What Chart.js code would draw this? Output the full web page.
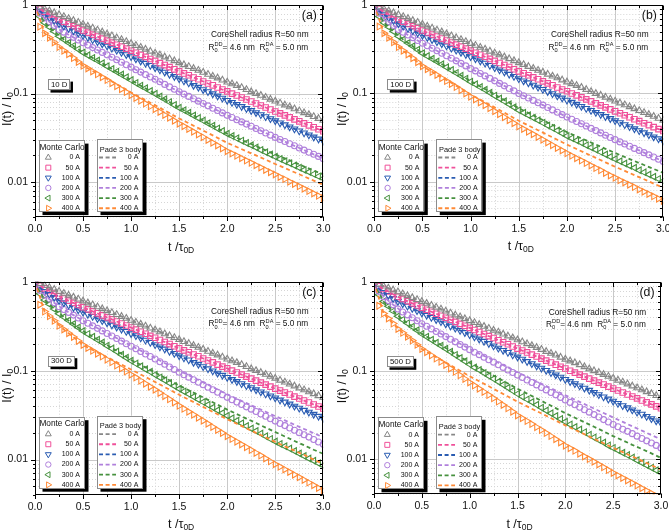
<!DOCTYPE html>
<html>
<head>
<meta charset="utf-8">
<title>CoreShell decay curves</title>
<script src="https://cdn.jsdelivr.net/npm/chart.js@4/dist/chart.umd.min.js"></script>
<style>
html,body{margin:0;padding:0;background:#fff;}
#wrap{position:relative;width:669px;height:530px;overflow:hidden;background:#fff;}
canvas{position:absolute;display:block;}
</style>
</head>
<body>
<div id="wrap">
<canvas id="pa" width="335" height="265" style="left:0px;top:0px"></canvas>
<canvas id="pb" width="334" height="265" style="left:335px;top:0px"></canvas>
<canvas id="pc" width="335" height="265" style="left:0px;top:265px"></canvas>
<canvas id="pd" width="334" height="265" style="left:335px;top:265px"></canvas>
</div>
<script>
// ---------- labels ----------
const SERIES_LABELS = ['0 A','50 A','100 A','200 A','300 A','400 A'];
const PANEL_LABELS = ['(a)','(b)','(c)','(d)'];
const DIFFUSION_LABELS = ['10 D','100 D','300 D','500 D'];
const Y_TICK_LABELS = ['1','0.1','0.01'];

// ---------- time axis (t / tau0D) ----------
const T = [0,0.05,0.1,0.15,0.2,0.25,0.3,0.35,0.4,0.45,
0.5,0.55,0.6,0.65,0.7,0.75,0.8,0.85,0.9,0.95,
1,1.05,1.1,1.15,1.2,1.25,1.3,1.35,1.4,1.45,
1.5,1.55,1.6,1.65,1.7,1.75,1.8,1.85,1.9,1.95,
2,2.05,2.1,2.15,2.2,2.25,2.3,2.35,2.4,2.45,
2.5,2.55,2.6,2.65,2.7,2.75,2.8,2.85,2.9,2.95,3];
const T10 = [0,0.1,0.2,0.3,0.4,0.5,0.6,0.7,0.8,0.9,1,1.1,1.2,1.3,1.4,1.5,1.6,1.7,1.8,1.9,2,2.1,2.2,2.3,2.4,2.5,2.6,2.7,2.8,2.9,3];

// ---------- Monte Carlo (and coincident Padé) values ----------
const MC_0A = [1,.951,.905,.861,.819,.779,.741,.705,.670,.638,
.607,.577,.549,.522,.497,.472,.449,.427,.407,.387,
.368,.350,.333,.317,.301,.287,.273,.259,.247,.235,
.223,.212,.202,.192,.183,.174,.165,.157,.150,.142,
.135,.129,.123,.117,.111,.105,.100,.0954,.0907,.0863,
.0821,.0781,.0743,.0707,.0672,.0639,.0608,.0578,.0550,.0523,.0498];
const MC_50A = [1,.904,.841,.786,.734,.685,.647,.612,.578,.546,
.516,.489,.464,.441,.418,.397,.377,.357,.339,.322,
.305,.289,.274,.260,.246,.234,.221,.210,.199,.188,
.178,.169,.161,.152,.145,.137,.130,.124,.117,.111,
.106,.100,.0952,.0903,.0858,.0814,.0773,.0734,.0697,.0661,
.0628,.0597,.0567,.0539,.0511,.0486,.0461,.0438,.0416,.0395,.0376];
const MC_100A_ABC = [1,.856,.778,.720,.666,.615,.579,.545,.513,.483,
.455,.430,.407,.385,.365,.345,.326,.309,.292,.276,
.261,.247,.233,.220,.208,.196,.185,.175,.165,.156,
.147,.139,.132,.124,.118,.111,.105,.0994,.0939,.0888,
.0839,.0795,.0755,.0715,.0678,.0643,.0610,.0578,.0548,.0520,
.0493,.0467,.0444,.0421,.0399,.0379,.0359,.0341,.0323,.0307,.0291];
const MC_100A_D = [1,.847,.769,.712,.658,.607,.572,.538,.507,.477,
.449,.424,.401,.379,.359,.339,.320,.303,.286,.270,
.256,.241,.228,.215,.203,.191,.180,.170,.161,.151,
.143,.135,.127,.120,.113,.107,.101,.0951,.0898,.0847,
.0798,.0754,.0713,.0673,.0636,.0601,.0568,.0536,.0506,.0478,
.0452,.0427,.0403,.0381,.0360,.0340,.0322,.0304,.0287,.0271,.0256];
const MC_200A_A = [1,.809,.715,.648,.587,.530,.495,.462,.432,.403,
.376,.353,.331,.311,.292,.274,.257,.241,.226,.212,
.199,.186,.175,.164,.154,.145,.136,.127,.119,.112,
.105,.0987,.0929,.0874,.0822,.0773,.0727,.0684,.0643,.0605,
.0568,.0537,.0507,.0479,.0452,.0427,.0403,.0381,.0359,.0339,
.0320,.0303,.0287,.0271,.0257,.0243,.0230,.0217,.0206,.0195,.0184];
const MC_200A_B = [1,.809,.715,.648,.587,.530,.493,.459,.428,.398,
.370,.347,.325,.304,.285,.267,.250,.234,.219,.205,
.191,.180,.168,.158,.148,.139,.130,.122,.114,.107,
.100,.0944,.0888,.0835,.0786,.0739,.0694,.0652,.0613,.0576,
.0541,.0510,.0481,.0454,.0428,.0403,.0380,.0358,.0337,.0318,
.0300,.0283,.0268,.0253,.0239,.0226,.0214,.0202,.0191,.0180,.0170];
const MC_200A_C = [1,.799,.706,.640,.579,.522,.486,.452,.421,.391,
.364,.341,.319,.299,.280,.262,.245,.230,.215,.201,
.188,.176,.164,.154,.144,.135,.126,.118,.110,.103,
.0959,.0900,.0844,.0791,.0742,.0695,.0651,.0610,.0571,.0535,
.0501,.0471,.0443,.0417,.0392,.0369,.0347,.0326,.0307,.0288,
.0271,.0255,.0241,.0227,.0214,.0201,.0190,.0179,.0168,.0158,.0149];
const MC_200A_D = [1,.790,.688,.620,.557,.498,.462,.428,.397,.367,
.340,.318,.297,.278,.260,.243,.227,.212,.198,.185,
.173,.162,.152,.142,.133,.125,.117,.109,.102,.0955,
.0892,.0837,.0785,.0736,.0691,.0647,.0607,.0568,.0533,.0499,
.0467,.0438,.0412,.0386,.0362,.0340,.0319,.0299,.0280,.0263,
.0246,.0232,.0218,.0206,.0194,.0182,.0171,.0161,.0152,.0143,.0134];
const MC_300A_A = [1,.742,.633,.565,.502,.444,.409,.376,.346,.318,
.291,.271,.253,.236,.220,.204,.190,.177,.164,.153,
.142,.132,.123,.115,.107,.0996,.0927,.0862,.0801,.0745,
.0692,.0647,.0606,.0566,.0530,.0495,.0463,.0432,.0404,.0377,
.0352,.0331,.0312,.0294,.0277,.0261,.0246,.0231,.0218,.0205,
.0193,.0182,.0172,.0163,.0154,.0145,.0137,.0130,.0123,.0116,.0110];
const MC_300A_B = [1,.742,.633,.565,.502,.444,.407,.373,.342,.312,
.285,.265,.247,.230,.214,.198,.184,.171,.159,.147,
.136,.127,.118,.110,.102,.0945,.0877,.0814,.0755,.0699,
.0647,.0606,.0567,.0531,.0497,.0465,.0435,.0406,.0380,.0355,
.0331,.0312,.0294,.0277,.0260,.0245,.0231,.0217,.0204,.0192,
.0181,.0171,.0161,.0152,.0144,.0135,.0128,.0121,.0114,.0108,.0102];
const MC_300A_C = [1,.732,.624,.557,.494,.436,.400,.366,.335,.306,
.279,.259,.240,.223,.207,.191,.177,.164,.151,.140,
.129,.120,.112,.104,.0970,.0902,.0839,.0780,.0725,.0673,
.0625,.0584,.0545,.0509,.0475,.0443,.0413,.0385,.0359,.0334,
.0311,.0292,.0273,.0256,.0239,.0224,.0210,.0196,.0183,.0171,
.0160,.0150,.0141,.0133,.0125,.0117,.0110,.0103,.00971,.00912,.00857];
const MC_300A_D = [1,.723,.606,.536,.472,.413,.378,.345,.315,.287,
.261,.242,.224,.207,.192,.177,.164,.151,.139,.128,
.118,.109,.102,.0942,.0873,.0809,.0749,.0693,.0641,.0592,
.0547,.0509,.0474,.0442,.0411,.0382,.0355,.0330,.0307,.0285,
.0264,.0247,.0231,.0216,.0202,.0189,.0176,.0165,.0154,.0143,
.0134,.0126,.0118,.0111,.0104,.00971,.00911,.00853,.00800,.00749,.00702];
const MC_400A_A = [1,.571,.480,.428,.379,.335,.305,.278,.252,.228,
.206,.192,.178,.165,.153,.142,.131,.121,.112,.104,
.0957,.0891,.0829,.0771,.0717,.0666,.0619,.0574,.0533,.0494,
.0457,.0427,.0398,.0371,.0345,.0322,.0299,.0278,.0259,.0240,
.0223,.0210,.0198,.0186,.0175,.0165,.0155,.0146,.0137,.0129,
.0122,.0114,.0108,.0101,.00952,.00895,.00841,.00791,.00744,.00699,.00657];
const MC_400A_B = [1,.571,.480,.428,.379,.335,.304,.276,.250,.226,
.203,.188,.175,.162,.149,.138,.128,.118,.109,.100,
.0920,.0854,.0792,.0735,.0681,.0630,.0583,.0539,.0498,.0460,
.0424,.0396,.0369,.0345,.0322,.0300,.0279,.0260,.0242,.0226,
.0210,.0197,.0185,.0174,.0163,.0153,.0143,.0135,.0126,.0118,
.0111,.0104,.00984,.00927,.00872,.00821,.00773,.00728,.00685,.00645,.00608];
const MC_400A_C = [1,.552,.461,.410,.363,.319,.290,.264,.239,.216,
.194,.180,.167,.155,.144,.133,.124,.114,.106,.0976,
.0901,.0835,.0772,.0714,.0660,.0609,.0561,.0517,.0476,.0438,
.0402,.0372,.0345,.0320,.0296,.0274,.0253,.0233,.0215,.0199,
.0183,.0170,.0159,.0148,.0138,.0128,.0119,.0111,.0103,.00955,
.00887,.00829,.00776,.00725,.00677,.00633,.00591,.00551,.00515,.00480,.00448];
const MC_400A_D = [1,.542,.443,.390,.341,.296,.268,.242,.219,.196,
.176,.162,.149,.137,.126,.116,.106,.0970,.0886,.0808,
.0736,.0679,.0626,.0576,.0530,.0487,.0447,.0410,.0375,.0343,
.0312,.0290,.0269,.0249,.0230,.0213,.0197,.0182,.0168,.0154,
.0142,.0133,.0124,.0115,.0107,.0100,.00933,.00868,.00807,.00751,
.00698,.00654,.00612,.00573,.00536,.00502,.00469,.00439,.00410,.00383,.00359];

// ---------- Padé 3-body values where they leave the MC points (t = 0..3 step 0.1) ----------
const PADE_300A_A = [1,.633,.502,.409,.346,.291,.253,.220,.190,.164,.142,.123,.107,.0927,.0801,.0692,.0606,.0530,.0463,.0404,.0352,.0316,.0284,.0255,.0229,.0205,.0185,.0167,.0150,.0135,.0122];
const PADE_400A_A = [1,.480,.379,.305,.252,.206,.180,.157,.137,.119,.103,.0902,.0789,.0689,.0602,.0524,.0462,.0407,.0359,.0316,.0277,.0249,.0223,.0200,.0179,.0160,.0144,.0129,.0116,.0104,.00931];
const PADE_300A_B = [1,.633,.502,.407,.342,.285,.248,.215,.186,.160,.138,.120,.105,.0907,.0787,.0680,.0602,.0532,.0469,.0414,.0365,.0328,.0294,.0264,.0236,.0212,.0191,.0172,.0155,.0140,.0126];
const PADE_400A_B = [1,.480,.379,.304,.250,.203,.176,.152,.132,.113,.0975,.0852,.0744,.0649,.0565,.0491,.0434,.0384,.0339,.0299,.0264,.0235,.0209,.0187,.0166,.0148,.0133,.0119,.0107,.00955,.00857];
const PADE_200A_C = [1,.706,.579,.486,.421,.364,.321,.282,.248,.218,.191,.168,.148,.130,.114,.100,.0888,.0786,.0694,.0613,.0541,.0484,.0432,.0386,.0345,.0308,.0276,.0247,.0221,.0198,.0178];
const PADE_300A_C = [1,.624,.494,.400,.335,.279,.241,.209,.180,.155,.132,.116,.102,.0891,.0779,.0680,.0602,.0532,.0469,.0414,.0365,.0325,.0289,.0258,.0229,.0204,.0182,.0162,.0145,.0129,.0116];
const PADE_400A_C = [1,.461,.363,.290,.239,.194,.171,.151,.133,.117,.103,.0905,.0795,.0698,.0612,.0535,.0472,.0417,.0367,.0323,.0284,.0253,.0225,.0200,.0178,.0158,.0141,.0126,.0113,.0100,.00896];
const PADE_200A_D = [1,.688,.557,.462,.397,.340,.299,.262,.230,.202,.177,.156,.139,.123,.109,.0959,.0852,.0756,.0671,.0595,.0528,.0470,.0419,.0373,.0332,.0296,.0264,.0235,.0210,.0187,.0167];
const PADE_300A_D = [1,.606,.472,.378,.315,.261,.226,.195,.168,.144,.123,.108,.0943,.0823,.0718,.0625,.0551,.0486,.0428,.0377,.0331,.0294,.0261,.0232,.0206,.0182,.0163,.0145,.0130,.0116,.0103];
const PADE_400A_D = [1,.443,.341,.268,.219,.176,.153,.133,.115,.100,.0865,.0759,.0666,.0583,.0510,.0446,.0395,.0349,.0309,.0273,.0241,.0214,.0191,.0170,.0151,.0134,.0120,.0107,.00955,.00853,.00762];

// ---------- styles ----------
const FONT = "'Liberation Sans', Arial, Helvetica, sans-serif";
const COLORS = ['#878787','#f0509a','#2a5cb2','#b080dc','#46913e','#ff8a36'];
const STYLES = [
  {s:'triangle', rot:0,   r:3.8},
  {s:'rect',     rot:0,   r:3.9},
  {s:'triangle', rot:180, r:3.8},
  {s:'circle',   rot:0,   r:3.0},
  {s:'triangle', rot:270, r:3.8},
  {s:'triangle', rot:90,  r:3.8}
];
Chart.defaults.font.family = FONT;

function pts(xs, ys){ return xs.map((x,i)=>({x:x, y:ys[i]})); }

function line(ctx,x1,y1,x2,y2){ ctx.beginPath(); ctx.moveTo(x1,y1); ctx.lineTo(x2,y2); ctx.stroke(); }

function txt(ctx, s, x, y, size, align){
  ctx.font = size+'px '+FONT; ctx.fillStyle='#111'; ctx.textAlign=align||'left'; ctx.textBaseline='middle';
  ctx.fillText(s, x, y);
}
function richWidth(ctx, segs){
  let w=0;
  for (const s of segs){
    ctx.font = s.size+'px '+FONT;
    if (s.stack) w += Math.max(ctx.measureText(s.sup).width, ctx.measureText(s.sub).width);
    else w += ctx.measureText(s.t).width;
  }
  return w;
}
function drawRich(ctx, segs, x, y, align){
  const w = richWidth(ctx, segs);
  let cx = align==='center' ? x - w/2 : x;
  ctx.textAlign='left'; ctx.textBaseline='middle'; ctx.fillStyle='#111';
  for (const s of segs){
    ctx.font = s.size+'px '+FONT;
    if (s.stack){
      ctx.fillText(s.sup, cx, y+s.supDy); ctx.fillText(s.sub, cx, y+s.subDy);
      cx += Math.max(ctx.measureText(s.sup).width, ctx.measureText(s.sub).width);
    } else {
      ctx.fillText(s.t, cx, y+(s.dy||0)); cx += ctx.measureText(s.t).width;
    }
  }
}
function shadowBox(ctx, x, y, w, h, off){
  ctx.fillStyle='#000'; ctx.fillRect(x+off, y+off, w, h);
  ctx.fillStyle='#fff'; ctx.fillRect(x, y, w, h);
  ctx.strokeStyle='#8c8c8c'; ctx.lineWidth=1; ctx.strokeRect(Math.round(x)+0.5, Math.round(y)+0.5, Math.round(w)-1, Math.round(h)-1);
}
function sym(ctx, k, x, y){
  const st = STYLES[k];
  ctx.save(); ctx.strokeStyle=COLORS[k]; ctx.lineWidth=1; ctx.setLineDash([]); ctx.beginPath();
  const r = st.r*0.9;
  if (st.s==='circle') ctx.arc(x, y, r, 0, 2*Math.PI);
  else if (st.s==='rect'){ const h=r*Math.SQRT1_2; ctx.rect(x-h, y-h, 2*h, 2*h); }
  else {
    let rad = st.rot*Math.PI/180;
    for (let i=0;i<3;i++){
      const px = x+Math.sin(rad)*r, py = y-Math.cos(rad)*r;
      if (i) ctx.lineTo(px,py); else ctx.moveTo(px,py);
      rad += 2*Math.PI/3;
    }
    ctx.closePath();
  }
  ctx.stroke(); ctx.restore();
}

function drawGrid(chart){
  const {ctx, chartArea:a, scales:{x, y}} = chart;
  ctx.save();
  ctx.beginPath(); ctx.rect(a.left, a.top, a.right-a.left, a.bottom-a.top); ctx.clip();
  ctx.lineWidth = 1;
  ctx.strokeStyle = '#d6d6d6'; ctx.setLineDash([1,2]);
  for (let e=-3; e<0; e++) for (let m=2; m<=9; m++){
    const v = m*Math.pow(10,e); if (v < y.min || v > y.max) continue;
    const py = Math.round(y.getPixelForValue(v))+0.5; line(ctx, a.left, py, a.right, py);
  }
  for (let k=1; k<12; k+=2){ const px=Math.round(x.getPixelForValue(k*0.25))+0.5; line(ctx, px, a.top, px, a.bottom); }
  ctx.setLineDash([]); ctx.strokeStyle = '#c9c9c9';
  for (const v of [0.01, 0.1]){ const py=Math.round(y.getPixelForValue(v))+0.5; line(ctx, a.left, py, a.right, py); }
  for (let k=1; k<6; k++){ const px=Math.round(x.getPixelForValue(k*0.5))+0.5; line(ctx, px, a.top, px, a.bottom); }
  ctx.restore();
}

function drawFrame(chart){
  const {ctx, chartArea:a, scales:{x, y}} = chart;
  ctx.save(); ctx.strokeStyle='#000'; ctx.lineWidth=1; ctx.setLineDash([]);
  const L=Math.round(a.left)+0.5, R=Math.round(a.right)-0.5, Tp=Math.round(a.top)+0.5, B=Math.round(a.bottom)-0.5;
  ctx.strokeRect(L, Tp, R-L, B-Tp);
  for (let e=-3; e<=0; e++) for (let m=1; m<=9; m++){
    const v = m*Math.pow(10,e); if (v < y.min-1e-12 || v > y.max+1e-12) continue;
    const py = Math.round(y.getPixelForValue(v))+0.5; const len = m===1 ? 4.5 : 2.5;
    line(ctx, L-len, py, L, py); line(ctx, R, py, R-len, py);
  }
  for (let k=0; k<=12; k++){
    const px = Math.round(x.getPixelForValue(k*0.25))+0.5; const len = k%2===0 ? 4.5 : 2.5;
    line(ctx, px, B, px, B+len); line(ctx, px, Tp, px, Tp+len);
  }
  ctx.restore();
}

function drawNotes(chart, pl, dl){
  const {ctx, chartArea:a} = chart;
  ctx.save();
  txt(ctx, pl, a.right-14, a.top+10.5, 12.3, 'center');
  txt(ctx, 'CoreShell radius R=50 nm', a.right-63.5, a.top+30, 8.3, 'center');
  drawRich(ctx, [
    {t:'R', size:8.3},
    {stack:true, sup:'DD', sub:'0', size:5.6, supDy:-3, subDy:3},
    {t:'= 4.6 nm  ', size:8.3},
    {t:'R', size:8.3},
    {stack:true, sup:'DA', sub:'0', size:5.6, supDy:-3, subDy:3},
    {t:' = 5.0 nm', size:8.3}
  ], a.right-65, a.top+42.4, 'center');
  ctx.font = '7.8px '+FONT;
  const bw = ctx.measureText(dl).width + 6;
  shadowBox(ctx, a.left+13, a.top+74, bw, 11, 2.5);
  txt(ctx, dl, a.left+13+bw/2, a.top+79.5, 7.8, 'center');
  ctx.restore();
}

function drawLegends(chart){
  const {ctx, chartArea:a} = chart;
  const L=a.left, Tp=a.top;
  ctx.save();
  shadowBox(ctx, L+4, Tp+135, 46, 71.5, 3.5);
  txt(ctx, 'Monte Carlo', L+27, Tp+142.4, 8.3, 'center');
  for (let k=0;k<6;k++){
    const yy = Tp+152.4+k*10.15;
    sym(ctx, k, L+13.3, yy);
    txt(ctx, SERIES_LABELS[k], L+45, yy, 7, 'right');
  }
  shadowBox(ctx, L+62, Tp+134, 46, 72.5, 3.5);
  txt(ctx, 'Padé 3 body', L+85.5, Tp+144.7, 7.4, 'center');
  for (let k=0;k<6;k++){
    const yy = Tp+152.4+k*10.15;
    ctx.strokeStyle = COLORS[k]; ctx.lineWidth = 1.8; ctx.setLineDash([4,2.6]);
    line(ctx, L+64, yy, L+81, yy);
    ctx.setLineDash([]);
    txt(ctx, SERIES_LABELS[k], L+103.3, yy, 7, 'right');
  }
  ctx.restore();
}

function drawTitles(chart){
  const {ctx, chartArea:a} = chart;
  ctx.save();
  drawRich(ctx, [{t:'t /τ', size:12.5}, {t:'0D', size:8.5, dy:3}], (a.left+a.right)/2+2, a.bottom+30, 'center');
  ctx.translate(8, a.top+104); ctx.rotate(-Math.PI/2);
  drawRich(ctx, [{t:'I(t) / I', size:12.5}, {t:'0', size:8.5, dy:3}], 0, 0, 'center');
  ctx.restore();
}

function makePanel(id, g, mcData, lnData, pl, dl){
  const cv = document.getElementById(id);
  const W = cv.width, H = cv.height;
  const datasets = [];
  for (let k=0;k<6;k++){
    const xs = lnData[k][0], ys = lnData[k][1];
    datasets.push({label:'Padé '+SERIES_LABELS[k], data:pts(xs, ys), borderColor:COLORS[k], backgroundColor:COLORS[k],
      borderWidth:1.8, borderDash:[4,3], pointRadius:0, tension:0, fill:false, order:0});
  }
  for (let k=0;k<6;k++){
    const st = STYLES[k];
    datasets.push({label:'Monte Carlo '+SERIES_LABELS[k], data:pts(T, mcData[k]), showLine:false,
      pointStyle:st.s, pointRotation:st.rot, pointRadius:st.r, pointBorderColor:COLORS[k],
      pointBackgroundColor:'rgba(0,0,0,0)', pointBorderWidth:1.1, borderColor:COLORS[k], order:1});
  }
  new Chart(cv, {
    type:'line',
    data:{datasets},
    options:{
      responsive:false, animation:false, devicePixelRatio:1, events:[],
      layout:{padding:{left:0, top:g.T, right:W-g.R, bottom:0}},
      plugins:{legend:{display:false}, tooltip:{enabled:false}},
      scales:{
        x:{type:'linear', min:0, max:3,
           grid:{display:false, drawTicks:false}, border:{display:false},
           ticks:{stepSize:0.5, padding:6, color:'#111', font:{size:10.5, family:FONT}, maxRotation:0, autoSkip:false,
                  callback:v=>Number(v).toFixed(1)},
           afterFit:s=>{ s.height = H-g.B; s.paddingLeft=0; s.paddingRight=0; }},
        y:{type:'logarithmic', min:0.004, max:1,
           grid:{display:false, drawTicks:false}, border:{display:false},
           ticks:{padding:7, color:'#111', font:{size:10.5, family:FONT}, autoSkip:false,
                  callback:v=>{ const m = Y_TICK_LABELS.find(s=>Math.abs(parseFloat(s)-v) < 1e-9); return m ? m : ''; }},
           afterFit:s=>{ s.width = g.L; s.paddingTop=0; s.paddingBottom=0; }}
      }
    },
    plugins:[{
      id:'deco_'+id,
      beforeDatasetsDraw(chart){ drawGrid(chart); },
      afterDatasetsDraw(chart){ drawFrame(chart); drawNotes(chart, pl, dl); drawLegends(chart); drawTitles(chart); }
    }]
  });
}

makePanel('pa', {L:35, R:323.3, T:4.3, B:217.3},
  [MC_0A, MC_50A, MC_100A_ABC, MC_200A_A, MC_300A_A, MC_400A_A],
  [[T,MC_0A],[T,MC_50A],[T,MC_100A_ABC],[T,MC_200A_A],[T10,PADE_300A_A],[T10,PADE_400A_A]],
  PANEL_LABELS[0], DIFFUSION_LABELS[0]);
makePanel('pb', {L:39.3, R:328.3, T:3.5, B:217},
  [MC_0A, MC_50A, MC_100A_ABC, MC_200A_B, MC_300A_B, MC_400A_B],
  [[T,MC_0A],[T,MC_50A],[T,MC_100A_ABC],[T,MC_200A_B],[T10,PADE_300A_B],[T10,PADE_400A_B]],
  PANEL_LABELS[1], DIFFUSION_LABELS[1]);
makePanel('pc', {L:35, R:323.3, T:16.7, B:230},
  [MC_0A, MC_50A, MC_100A_ABC, MC_200A_C, MC_300A_C, MC_400A_C],
  [[T,MC_0A],[T,MC_50A],[T,MC_100A_ABC],[T10,PADE_200A_C],[T10,PADE_300A_C],[T10,PADE_400A_C]],
  PANEL_LABELS[2], DIFFUSION_LABELS[2]);
makePanel('pd', {L:39, R:326, T:17.3, B:229.3},
  [MC_0A, MC_50A, MC_100A_D, MC_200A_D, MC_300A_D, MC_400A_D],
  [[T,MC_0A],[T,MC_50A],[T,MC_100A_D],[T10,PADE_200A_D],[T10,PADE_300A_D],[T10,PADE_400A_D]],
  PANEL_LABELS[3], DIFFUSION_LABELS[3]);
</script>
</body>
</html>
